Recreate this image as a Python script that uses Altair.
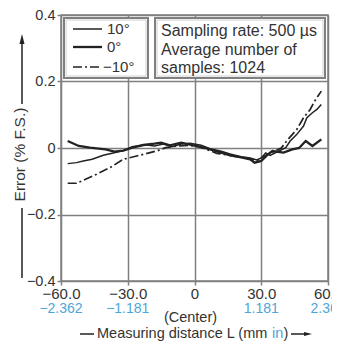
import altair as alt
import pandas as pd

# ---------------- data ----------------
x_p10 = [-57, -53, -50, -46, -41, -37, -32, -28, -22, -18, -14, -10, -6, -2, 3, 7, 12, 16, 21, 25, 28, 30, 32, 34, 37, 41, 43, 46, 49, 50.5, 53, 55, 57]
y_p10 = [-0.047, -0.044, -0.039, -0.034, -0.022, -0.016, -0.008, 0.004, 0.010, 0.006, 0.012, 0.004, 0.012, 0.014, 0.008, -0.002, -0.010, -0.018, -0.026, -0.030, -0.036, -0.030, -0.015, -0.022, -0.012, 0.001, 0.021, 0.041, 0.066, 0.091, 0.106, 0.116, 0.131]

x_0 = [-57, -52, -47, -40, -36, -32, -28, -23, -18, -15, -11, -6, -2, 3, 7, 12, 16, 21, 25, 27, 30, 33, 35, 40, 44, 47, 50, 53, 57]
y_0 = [0.021, 0.006, 0.001, -0.004, -0.011, -0.008, 0.001, 0.009, 0.013, 0.016, 0.008, 0.016, 0.010, 0.003, -0.004, -0.014, -0.022, -0.028, -0.034, -0.044, -0.039, -0.019, -0.009, -0.014, -0.004, 0.000, 0.021, 0.006, 0.026]

x_m10 = [-57, -53, -49, -44, -38, -32, -26, -20, -17, -13, -8, -3, 2, 6, 10, 14, 19, 24, 28, 31, 35, 39, 42, 46, 49, 52, 54, 57]
y_m10 = [-0.106, -0.106, -0.094, -0.079, -0.059, -0.034, -0.024, -0.014, -0.009, 0.001, 0.006, 0.008, 0.004, -0.006, -0.016, -0.020, -0.026, -0.030, -0.038, -0.026, -0.012, 0.000, 0.026, 0.056, 0.091, 0.116, 0.141, 0.171]

mm_ticks = [-60, -30, 0, 30, 60]
mm_labels = ["\u221260.0", "\u221230.0", "0", "30.0", "60.0"]
inch_labels = ["\u22122.362", "\u22121.181", "", "1.181", "2.362"]
y_ticks = [-0.4, -0.2, 0, 0.2, 0.4]
y_labels = ["\u22120.4", "\u22120.2", "0", "0.2", "0.4"]
legend_labels = ["10\u00b0", "0\u00b0", "\u221210\u00b0"]
info_lines = ["Sampling rate: 500 \u00b5s", "Average number of", "samples: 1024"]
y_title = "Error (% F.S.)"
x_title_main = "Measuring distance L (mm"
x_title_unit = "in"
center_label = "(Center)"

# ---------------- style ----------------
FONT = "Liberation Sans"
GRID = "#808080"
INK = "#222222"
TXT = "#333333"
BLUE = "#4da6d9"
W, H = 267, 266

xscale = alt.Scale(domain=[-60, 60], nice=False, zero=False)
yscale = alt.Scale(domain=[-0.4, 0.4], nice=False, zero=False)


def label_expr(vals, labels):
    expr = "''"
    for v, l in zip(reversed(vals), reversed(labels)):
        expr = f"abs(datum.value - ({v})) < 1e-9 ? '{l}' : ({expr})"
    return expr


x_axis = alt.Axis(values=mm_ticks, labelExpr=label_expr(mm_ticks, mm_labels), grid=True,
                  gridColor=GRID, gridWidth=1.5, domain=False, ticks=True, tickColor=GRID,
                  tickWidth=1.5, tickSize=4, labelFont=FONT, labelFontSize=15, labelColor=TXT,
                  labelPadding=1, labelFlush=False, labelOverlap=False, title=None)
y_axis = alt.Axis(values=y_ticks, labelExpr=label_expr(y_ticks, y_labels), grid=True,
                  gridColor=GRID, gridWidth=1.5, domain=False, ticks=True, tickColor=GRID,
                  tickWidth=1.5, tickSize=4, labelFont=FONT, labelFontSize=14.5, labelColor=TXT,
                  labelPadding=2, labelFlush=False, labelOverlap=False, title=None)


def series(xs, ys, width, dash=None):
    df = pd.DataFrame({"x": xs, "y": ys})
    kw = dict(color=INK, strokeWidth=width, clip=True)
    if dash is not None:
        kw["strokeDash"] = dash
    return alt.Chart(df).mark_line(**kw).encode(
        x=alt.X("x:Q", scale=xscale, axis=x_axis),
        y=alt.Y("y:Q", scale=yscale, axis=y_axis),
    )


DASHDOT = [9, 3, 2, 3]
lines = [
    series(x_p10, y_p10, 1.5),
    series(x_0, y_0, 2.3),
    series(x_m10, y_m10, 1.7, DASHDOT),
]

one = pd.DataFrame({"a": [0]})


def txt(s, x, y, size=15, color=TXT, align="left", angle=None, baseline="middle"):
    kw = dict(font=FONT, fontSize=size, color=color, align=align, baseline=baseline)
    if angle is not None:
        kw["angle"] = angle
    return alt.Chart(pd.DataFrame({"t": [s]})).mark_text(**kw).encode(
        x=alt.value(x), y=alt.value(y), text="t:N")


def rule(x1, x2, y1, y2, width=1.5, color=INK, dash=None):
    kw = dict(color=color, strokeWidth=width)
    if dash is not None:
        kw["strokeDash"] = dash
    return alt.Chart(one).mark_rule(**kw).encode(
        x=alt.value(x1), x2=alt.value(x2), y=alt.value(y1), y2=alt.value(y2))


def box(x1, x2, y1, y2):
    outer = alt.Chart(one).mark_rect(fill="white", stroke=GRID, strokeWidth=2).encode(
        x=alt.value(x1), x2=alt.value(x2), y=alt.value(y1), y2=alt.value(y2))
    inner = alt.Chart(one).mark_rect(fill="white", fillOpacity=0, stroke="#d0d0d0", strokeWidth=1).encode(
        x=alt.value(x1 + 2), x2=alt.value(x2 - 2), y=alt.value(y1 + 2), y2=alt.value(y2 - 2))
    return [outer, inner]


def symbol(shape, x, y, size):
    return alt.Chart(one).mark_point(shape=shape, filled=True, size=size, color=INK, opacity=1,
                                     strokeWidth=0).encode(x=alt.value(x), y=alt.value(y))


# legend boxes
deco = []
deco += box(3, 87, 3, 63)
deco += box(94, 264, 3, 63)
# legend samples
leg_y = [14, 32, 52]
deco.append(rule(12, 41, leg_y[0], leg_y[0], 1.5))
deco.append(rule(12, 41, leg_y[1], leg_y[1], 2.3))
deco.append(rule(12, 41, leg_y[2], leg_y[2], 1.7, dash=DASHDOT))
deco.append(txt(legend_labels[0], 46, leg_y[0], 15))
deco.append(txt(legend_labels[1], 46, leg_y[1], 15))
deco.append(txt(legend_labels[2], 42, leg_y[2], 15))
# info text
for i, s in enumerate(info_lines):
    deco.append(txt(s, 100, 16 + i * 18.5, 16))

# inch labels under mm labels (share the x axis definition so it is kept)
tick_df = pd.DataFrame({"mm": mm_ticks, "inch": inch_labels})
inch = alt.Chart(tick_df).mark_text(font=FONT, fontSize=14, color=BLUE, baseline="middle").encode(
    x=alt.X("mm:Q", scale=xscale, axis=x_axis), y=alt.value(294), text="inch:N")
center = alt.Chart(pd.DataFrame({"mm": [0], "t": [center_label]})).mark_text(
    font=FONT, fontSize=14.5, color=TXT, baseline="middle", dx=-4).encode(
    x=alt.X("mm:Q", scale=xscale, axis=x_axis), y=alt.value(303), text="t:N")

# y title with arrow
deco.append(txt(y_title, -41, 139.5, 15.5, align="center", angle=270))
deco.append(rule(-39, -39, 27, 89, 1.5))
deco.append(symbol("M0,-1L0.5,1L-0.5,1Z", -39, 24, 100))
deco.append(rule(-39, -39, 193, 263, 1.5))

# x title with dash and arrow
XT_Y = 319
deco.append(rule(19, 33, XT_Y, XT_Y, 1.5))
deco.append(txt(x_title_main, 36, XT_Y, 14.5))
deco.append(txt(x_title_unit, 211, XT_Y, 14.5, color=BLUE))
deco.append(txt(")", 222.5, XT_Y, 14.5))
deco.append(rule(230, 244, XT_Y, XT_Y, 1.5))
deco.append(symbol("M1,0L-1,-0.5L-1,0.5Z", 247, XT_Y, 64))

chart = alt.layer(*lines, inch, center, *deco).properties(
    width=W, height=H,
    autosize=alt.AutoSizeParams(type="none"),
    padding={"left": 53, "top": 7, "right": 4, "bottom": 60},
    background="white",
).configure_view(stroke=GRID, strokeWidth=1.5)

chart.save("out.html", embed_options={"renderer": "svg", "actions": False})
